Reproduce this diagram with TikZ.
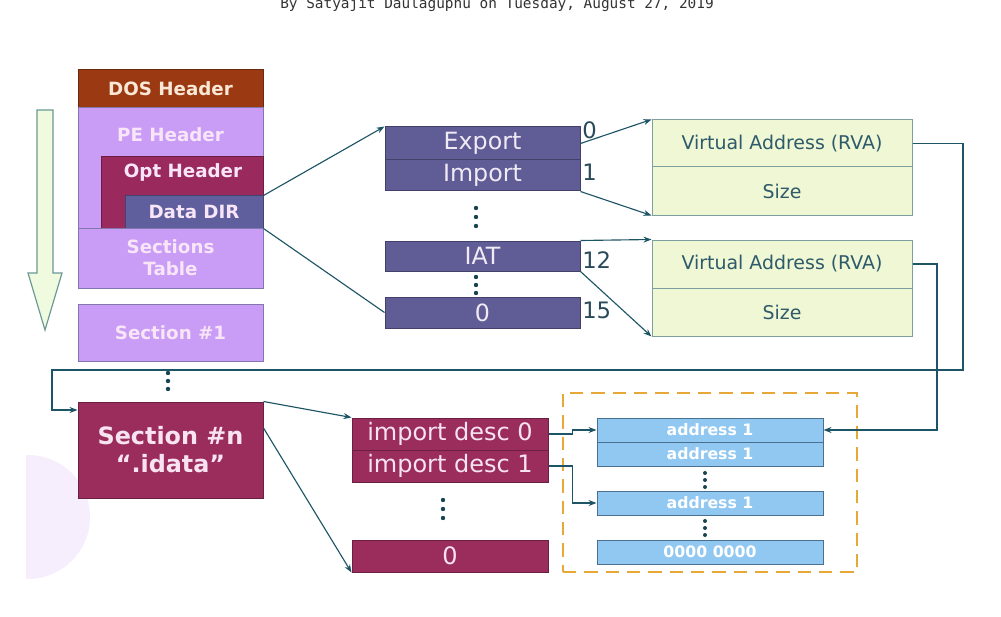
\documentclass[tikz,border=0pt]{standalone}
\usepackage{fontspec}
\setmainfont{DejaVu Sans}
\newfontfamily\titlemono{DejaVu Sans Mono}
\usetikzlibrary{arrows.meta}
\definecolor{dosc}{RGB}{155,58,18}
\definecolor{dost}{RGB}{250,232,215}
\definecolor{pec}{RGB}{201,156,246}
\definecolor{peb}{RGB}{130,120,175}
\definecolor{pet}{RGB}{248,230,248}
\definecolor{optc}{RGB}{154,42,94}
\definecolor{ddc}{RGB}{95,95,158}
\definecolor{midc}{RGB}{96,92,150}
\definecolor{midt}{RGB}{240,234,244}
\definecolor{secc}{RGB}{155,45,93}
\definecolor{sect}{RGB}{248,228,240}
\definecolor{grc}{RGB}{239,247,213}
\definecolor{grb}{RGB}{125,159,160}
\definecolor{grt}{RGB}{46,90,106}
\definecolor{blc}{RGB}{145,200,242}
\definecolor{blb}{RGB}{74,112,144}
\definecolor{arrc}{RGB}{30,85,102}
\definecolor{numc}{RGB}{42,74,90}
\definecolor{orc}{RGB}{232,168,56}
\definecolor{bigarf}{RGB}{240,250,223}
\definecolor{bigarb}{RGB}{106,154,149}
\definecolor{titc}{RGB}{51,51,51}
\definecolor{lav}{RGB}{246,238,252}
% box helper: style, name, x1, y1, x2, y2, text
\newcommand\pxbox[7]{\node[#1, minimum width={(#5-#3)*0.75pt}, minimum height={(#6-#4)*0.75pt}] (#2) at ({(#3+#5)/2},{(#4+#6)/2}) {#7};}
\begin{document}
\begin{tikzpicture}[x=0.75pt,y=-0.75pt,
  box/.style={draw, inner sep=0pt, line width=0.75pt},
  pebox/.style={box, fill=pec, draw=peb},
  bfw/.style={text=pet, font=\bfseries\fontsize{13.7}{16.5}\selectfont, align=center},
  midbox/.style={box, fill=midc, draw=midc!70!black, text=midt, font=\fontsize{17.8}{20}\selectfont},
  secbox/.style={box, fill=secc, draw=secc!70!black, text=sect, font=\fontsize{18}{20}\selectfont},
  grbox/.style={box, fill=grc, draw=grb, text=grt, font=\fontsize{14.2}{17}\selectfont},
  blbox/.style={box, fill=blc, draw=blb, text=white, font=\bfseries\fontsize{11.8}{14}\selectfont},
  numlab/.style={anchor=west, inner sep=0pt, text=numc, font=\fontsize{17}{20}\selectfont},
  ln/.style={draw=arrc, line width=0.85pt},
  arr/.style={ln, -{Stealth[length=6pt,width=4.5pt]}},
  dotc/.style={fill=arrc!80!black}
]
\useasboundingbox (0,0) rectangle (1001,617);
% faint background decoration
\begin{scope}
\clip (26,380) rectangle (200,580);
\fill[lav] (28,517) circle[radius=62];
\end{scope}
% title
\node[anchor=base west, inner sep=0pt, text=titc, font=\titlemono\fontsize{10.8}{12}\selectfont] (title) at (280,9) {By Satyajit Daulaguphu on Tuesday, August 27, 2019};
% big arrow
\draw[fill=bigarf, draw=bigarb, line width=0.9pt] (37,110) -- (53,110) -- (53,273) -- (62,273) -- (45,330) -- (28,273) -- (37,273) -- cycle;
% left column
\pxbox{box, fill=dosc, draw=dosc!70!black, text=dost, font=\bfseries\fontsize{13.7}{16}\selectfont}{dos}{78}{70}{263}{108}{DOS Header}
\pxbox{pebox}{pe}{78}{108}{263}{228}{}
\node[bfw] (pelab) at (170.5,135) {PE Header};
\pxbox{box, fill=optc, draw=optc!70!black}{opt}{101}{157}{263}{228}{}
\node[bfw] (optlab) at (183,172) {Opt Header};
\pxbox{box, fill=ddc, draw=ddc!70!black, bfw}{dd}{125}{196}{263}{228}{Data DIR}
\pxbox{pebox, bfw}{sectab}{78}{228}{263}{288}{Sections\\Table}
\pxbox{pebox, bfw}{sec1}{78}{304}{263}{361}{Section \#1}
\pxbox{box, fill=secc, draw=secc!70!black, text=sect, align=center, font=\bfseries\fontsize{17.9}{21}\selectfont}{secn}{78}{402}{263}{498}{Section \#n\\“.idata”}
% data directory
\pxbox{midbox}{export}{385}{127}{580}{160}{Export}
\pxbox{midbox}{import}{385}{160}{580}{191}{Import}
\pxbox{midbox}{iat}{385}{241}{580}{271}{IAT}
\pxbox{midbox}{zero}{385}{297}{580}{328}{0}
\node[numlab] (n0) at (582,130) {0};
\node[numlab] (n1) at (582,172) {1};
\node[numlab] (n12) at (582,260) {12};
\node[numlab] (n15) at (582,310) {15};
% green tables
\pxbox{grbox}{va1}{652}{120}{912}{167}{Virtual Address (RVA)}
\pxbox{grbox}{sz1}{652}{167}{912}{215}{Size}
\pxbox{grbox}{va2}{652}{240}{912}{288}{Virtual Address (RVA)}
\pxbox{grbox}{sz2}{652}{288}{912}{336}{Size}
% import descriptors
\pxbox{secbox}{desc0}{352}{418}{548}{450}{import desc 0}
\pxbox{secbox}{desc1}{352}{450}{548}{482}{import desc 1}
\pxbox{secbox}{zero2}{352}{540}{548}{572}{0}
% IAT addresses
\pxbox{draw=orc, line width=1.9pt, dash pattern=on 10pt off 6pt, inner sep=0pt}{iatgrp}{563}{393}{857}{572}{}
\pxbox{blbox}{a1}{597}{418}{823}{442}{address 1}
\pxbox{blbox}{a2}{597}{442}{823}{466}{address 1}
\pxbox{blbox}{a3}{597}{491}{823}{515}{address 1}
\pxbox{blbox}{a4}{597}{540}{823}{564}{0000 0000}
% dots
\foreach \y in {373,381,389} \fill[dotc] (168,\y) circle[radius=2.2];
\foreach \y in {208,217,226} \fill[dotc] (476,\y) circle[radius=2.2];
\foreach \y in {277,285,293} \fill[dotc] (476,\y) circle[radius=2.2];
\foreach \y in {500,509,518} \fill[dotc] (443,\y) circle[radius=2.2];
\foreach \y in {473,480,487} \fill[dotc] (705,\y) circle[radius=2];
\foreach \y in {521,528,535} \fill[dotc] (705,\y) circle[radius=2];
% connectors
\coordinate (r1) at (963,370);
\coordinate (l1) at (52,370);
\coordinate (r2) at (937,430);
\draw[arr] (dd.north east) -- (export.north west);
\draw[ln] (dd.south east) -- (zero.west);
\draw[arr] (export.east) -- (va1.north west);
\draw[arr] (import.south east) -- (sz1.south west);
\draw[arr] (iat.north east) -- (va2.north west);
\draw[arr] (iat.south east) -- (sz2.south west);
\draw[arr] (va1.east) -| (r1) -- (l1) |- (secn.west |- 0,410);
\draw[arr] (va2.east) -| (r2) -- (a1.east);
\draw[arr] (secn.north east) -- (desc0.north west);
\draw[arr] (secn.east |- 0,428) -- (zero2.south west);
\draw[arr] (desc0.east) -- ++(24,0) |- (a1.west);
\draw[arr] (desc1.east) -- ++(24,0) |- (a3.west);
\end{tikzpicture}
\end{document}
